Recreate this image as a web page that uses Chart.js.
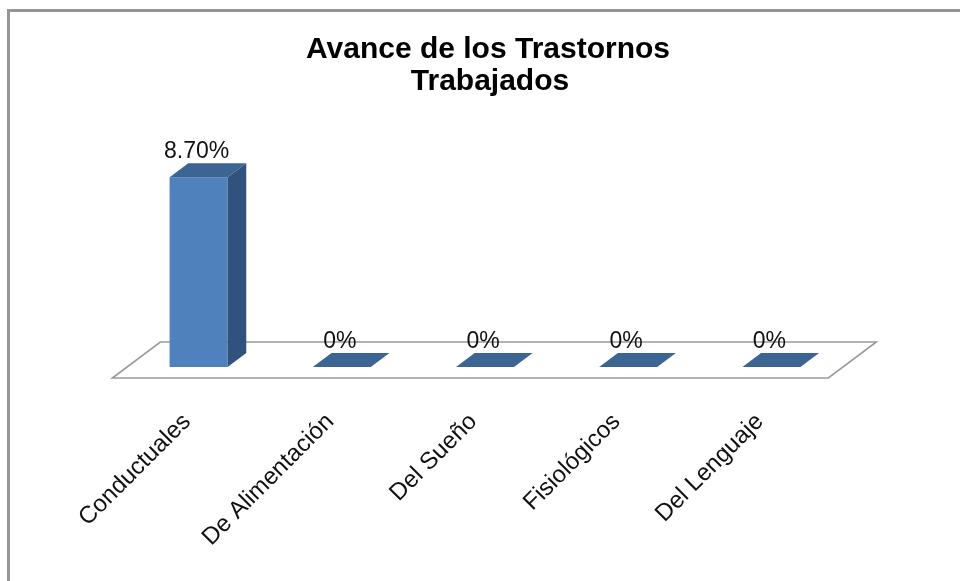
<!DOCTYPE html>
<html><head><meta charset="utf-8">
<script src="https://cdn.jsdelivr.net/npm/chart.js@4"></script>
<style>html,body{margin:0;padding:0;background:#fff;overflow:hidden}#wrap{width:960px;height:581px;position:relative}</style>
</head><body><div id="wrap"><canvas id="c" width="960" height="581"></canvas></div>
<script>
const categories = ['Conductuales', 'De Alimentación', 'Del Sueño', 'Fisiológicos', 'Del Lenguaje'];
const values = [8.7, 0, 0, 0, 0];
const valueLabels = ['8.70%', '0%', '0%', '0%', '0%'];
const titleLines = ['Avance de los Trastornos', 'Trabajados'];
const yMin = 0, yMax = 10;

const SLOPE = 4 / 3;       // horizontal shift per vertical px of depth
const BAR_DEPTH = 14;      // depth of each bar (vertical px)
const FLOOR_FRONT = 11;    // floor front edge below bar base
const FLOOR_BACK = 25;     // floor back edge above bar base
const FRONT = '#4F81BD', TOP = '#3D6594', SIDE = '#31527D';

const threeD = {
  id: 'threeD',
  beforeDraw(chart) {
    const ctx = chart.ctx;
    ctx.save();
    ctx.fillStyle = '#fff';
    ctx.fillRect(0, 0, chart.width, chart.height);
    ctx.strokeStyle = '#959595';
    ctx.lineWidth = 3;
    ctx.beginPath();
    ctx.moveTo(8.5, chart.height + 2);
    ctx.lineTo(8.5, 10.5);
    ctx.lineTo(chart.width + 2, 10.5);
    ctx.stroke();
    ctx.fillStyle = '#000';
    ctx.font = 'bold 30px "Liberation Sans", Arial, sans-serif';
    ctx.textAlign = 'center';
    ctx.textBaseline = 'alphabetic';
    ctx.fillText(titleLines[0], 488, 58);
    ctx.fillText(titleLines[1], 490, 90);
    ctx.restore();
  },
  beforeDatasetsDraw(chart) {
    const ctx = chart.ctx, a = chart.chartArea;
    const y0 = chart.scales.y.getPixelForValue(0);
    const fy = y0 + FLOOR_FRONT, fdx = -FLOOR_FRONT * SLOPE;
    const by = y0 - FLOOR_BACK, bdx = FLOOR_BACK * SLOPE;
    ctx.save();
    ctx.strokeStyle = '#9a9a9a';
    ctx.lineWidth = 1.6;
    ctx.beginPath();
    ctx.moveTo(a.left + fdx, fy);
    ctx.lineTo(a.right + fdx, fy);
    ctx.lineTo(a.right + bdx, by);
    ctx.lineTo(a.left + bdx, by);
    ctx.closePath();
    ctx.stroke();
    ctx.restore();
  },
  afterDatasetsDraw(chart) {
    const ctx = chart.ctx;
    const meta = chart.getDatasetMeta(0);
    const y0 = chart.scales.y.getPixelForValue(0);
    const dx = BAR_DEPTH * SLOPE, dy = BAR_DEPTH;
    ctx.save();
    meta.data.forEach((el, i) => {
      const p = el.getProps(['x', 'y', 'base', 'width'], true);
      const l = p.x - p.width / 2, r = p.x + p.width / 2, t = p.y, b = p.base;
      if (b - t > 0.5) {
        ctx.fillStyle = SIDE;
        ctx.beginPath();
        ctx.moveTo(r, t); ctx.lineTo(r + dx, t - dy); ctx.lineTo(r + dx, b - dy); ctx.lineTo(r, b);
        ctx.closePath(); ctx.fill();
      }
      ctx.fillStyle = TOP;
      ctx.beginPath();
      ctx.moveTo(l, t); ctx.lineTo(r, t); ctx.lineTo(r + dx, t - dy); ctx.lineTo(l + dx, t - dy);
      ctx.closePath(); ctx.fill();
      // value label
      ctx.fillStyle = '#111';
      ctx.font = '23px "Liberation Sans", Arial, sans-serif';
      ctx.textAlign = 'center';
      ctx.textBaseline = 'alphabetic';
      ctx.fillText(valueLabels[i], p.x - 2, t - dy - 5);
    });
    // category labels
    const xs = chart.scales.x;
    ctx.font = '24px "Liberation Sans", Arial, sans-serif';
    ctx.fillStyle = '#111';
    ctx.textAlign = 'right';
    ctx.textBaseline = 'middle';
    categories.forEach((c, i) => {
      const x = xs.getPixelForValue(i) - FLOOR_FRONT * SLOPE + 3;
      const y = y0 + 51;
      ctx.save();
      ctx.translate(x, y);
      ctx.rotate(-Math.PI / 4);
      ctx.fillText(c, 0, 0);
      ctx.restore();
    });
    ctx.restore();
  }
};

new Chart(document.getElementById('c'), {
  type: 'bar',
  data: {
    labels: categories,
    datasets: [{
      data: values,
      backgroundColor: FRONT,
      borderWidth: 0,
      barPercentage: 0.405,
      categoryPercentage: 1
    }]
  },
  options: {
    responsive: false,
    devicePixelRatio: 1,
    animation: false,
    layout: { padding: { left: 127, right: 117, top: 149, bottom: 214 } },
    plugins: { legend: { display: false }, title: { display: false }, tooltip: { enabled: false } },
    scales: {
      x: { display: false },
      y: { display: false, min: yMin, max: yMax }
    }
  },
  plugins: [threeD]
});
</script>
</body></html>
